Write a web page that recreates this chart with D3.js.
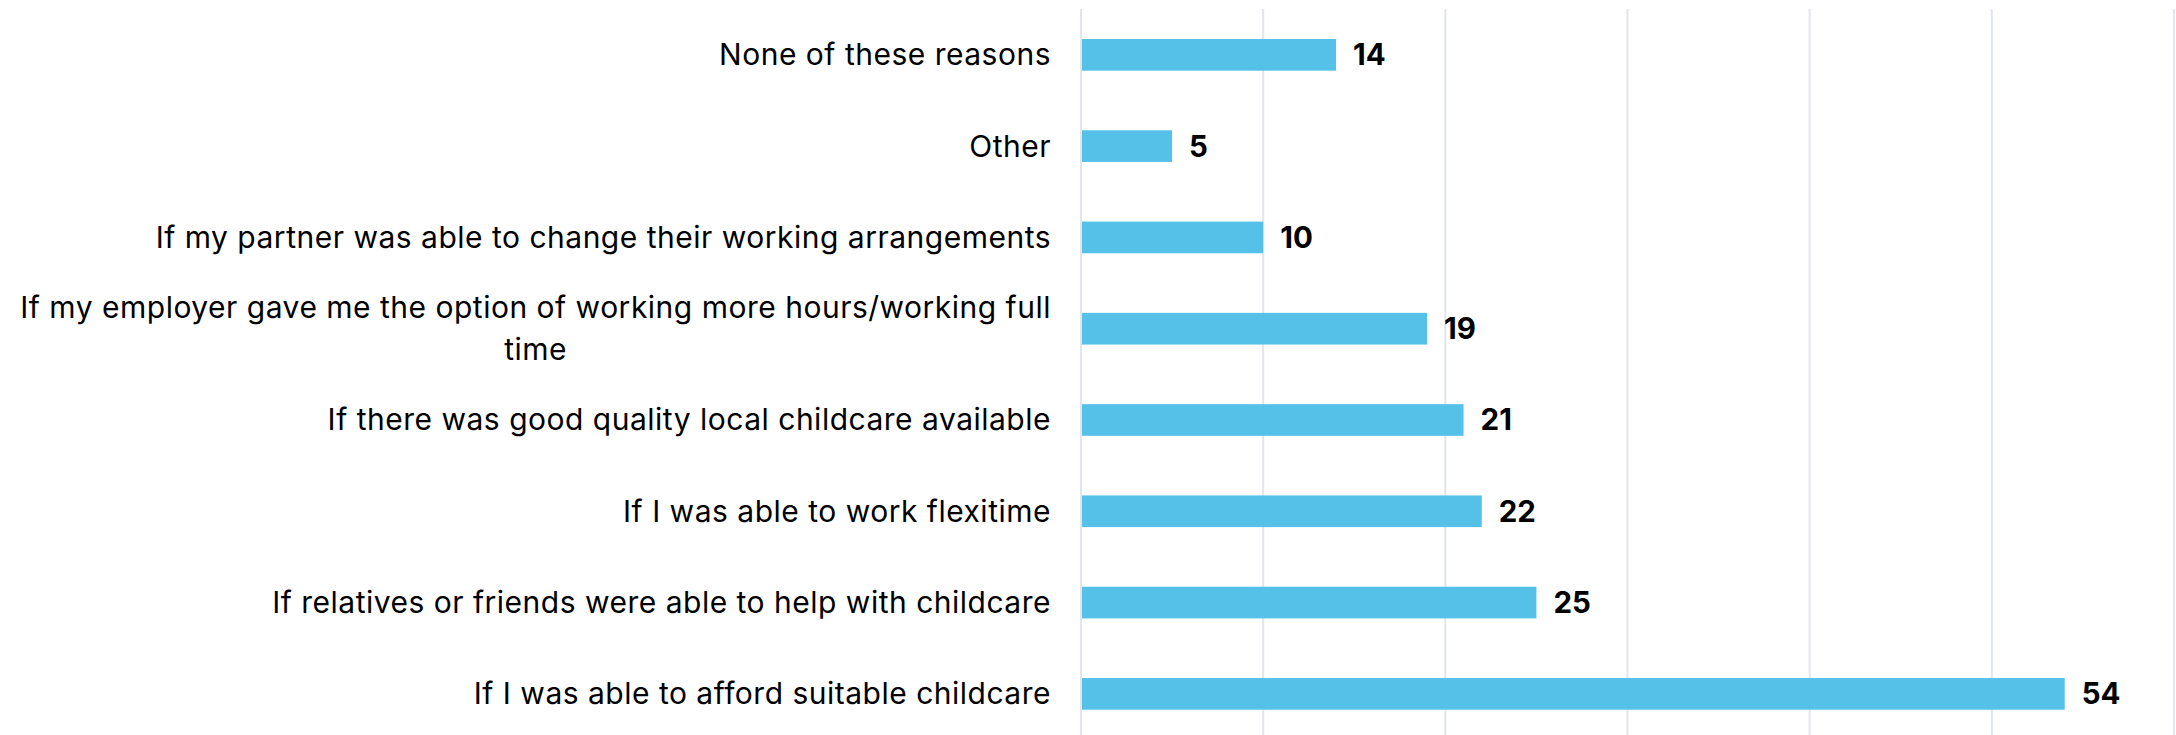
<!DOCTYPE html>
<html>
<head>
<meta charset="utf-8">
<script src="https://cdn.jsdelivr.net/npm/d3@7"></script>
<style>
  html, body { margin: 0; padding: 0; background: #ffffff; }
  svg { display: block; }
  text { font-family: Inter, "Noto Sans", sans-serif; }
</style>
</head>
<body>
<svg id="chart" width="2176" height="735"></svg>
<script>
// Reasons, listed top to bottom
const categories = [
  "None of these reasons",
  "Other",
  "If my partner was able to change their working arrangements",
  "If my employer gave me the option of working more hours/working full time",
  "If there was good quality local childcare available",
  "If I was able to work flexitime",
  "If relatives or friends were able to help with childcare",
  "If I was able to afford suitable childcare"
];
// Share of respondents (%)
const values = [14, 5, 10, 19, 21, 22, 25, 54];
// Vertical gridlines
const gridTicks = [0, 10, 20, 30, 40, 50, 60];

const W = 2176, H = 735;
const svg = d3.select("#chart");

const x = d3.scaleLinear().domain([0, 60]).range([1081, 2174]);
const y = d3.scaleBand().domain(categories).range([9.2, 739.5]).paddingInner(0.653).paddingOuter(0.3265);

// gridlines
svg.append("g")
  .selectAll("line")
  .data(gridTicks)
  .join("line")
  .attr("x1", d => x(d)).attr("x2", d => x(d))
  .attr("y1", 9).attr("y2", H)
  .attr("stroke", "#e2e6eb")
  .attr("stroke-width", 2);

// bars
svg.append("g")
  .selectAll("rect")
  .data(values)
  .join("rect")
  .attr("x", x(0) + 1)
  .attr("y", (d, i) => y(categories[i]))
  .attr("width", d => x(d) - x(0) - 1)
  .attr("height", y.bandwidth())
  .attr("fill", "#56c1e8");

// value labels
svg.append("g")
  .selectAll("text")
  .data(values)
  .join("text")
  .attr("x", d => x(d) + 17)
  .attr("y", (d, i) => y(categories[i]) + y.bandwidth() / 2 + 10.5)
  .attr("font-size", 29.5)
  .attr("font-weight", 700)
  .attr("fill", "#000")
  .text(d => d);

// category labels, wrapped when wider than the label column
const labelRight = 1051;
const maxLabelWidth = 1060;
const lineH = 42;
const lab = svg.append("g");
categories.forEach(c => {
  const cy = y(c) + y.bandwidth() / 2;
  const t = lab.append("text")
    .attr("font-size", 30)
    .attr("letter-spacing", 0.5)
    .attr("fill", "#000")
    .attr("text-anchor", "end")
    .attr("x", labelRight)
    .attr("y", cy + 10.5)
    .text(c);
  if (t.node().getComputedTextLength() > maxLabelWidth) {
    const words = c.split(" ");
    const lines = [];
    let cur = [];
    t.text(null);
    words.forEach(w => {
      const trial = cur.concat(w).join(" ");
      t.text(trial);
      if (t.node().getComputedTextLength() > maxLabelWidth && cur.length) {
        lines.push(cur.join(" "));
        cur = [w];
      } else {
        cur.push(w);
      }
    });
    lines.push(cur.join(" "));
    t.text(lines[0] + " ");
    const blockW = t.node().getComputedTextLength();
    const cx = labelRight - blockW / 2;
    t.text(null).attr("text-anchor", "middle").attr("x", cx);
    const top = cy - (lines.length - 1) * lineH / 2 + 10.5;
    lines.forEach((ln, k) => {
      t.append("tspan").attr("x", cx).attr("y", top + k * lineH).text(ln);
    });
  }
});
</script>
</body>
</html>
